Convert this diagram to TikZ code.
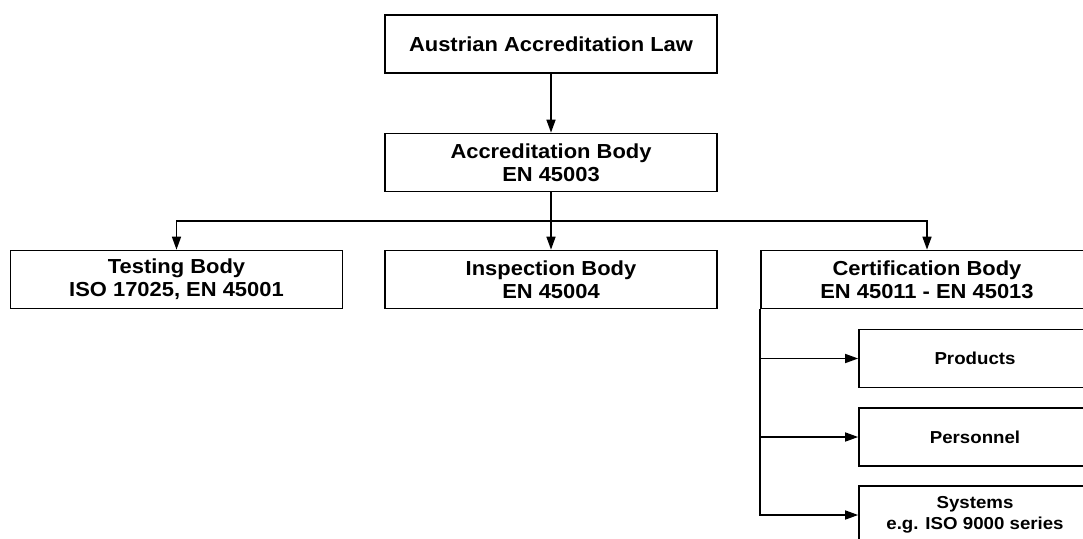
\documentclass[tikz,border=0pt]{standalone}
\usepackage{fontspec}
\setmainfont[FakeStretch=1.08]{Liberation Sans}
\usepackage{tikz}
\usetikzlibrary{positioning,arrows.meta}
\tikzstyle{body}      = [rectangle, draw=black, line width=1.7pt, minimum width=332pt, minimum height=58pt, align=center, font=\fontsize{20.3}{23}\selectfont\bfseries, inner sep=0pt]
\tikzstyle{scope}     = [rectangle, draw=black, line width=1.7pt, minimum width=232pt, minimum height=58pt, align=center, font=\fontsize{17.3}{21.5}\selectfont\bfseries, inner sep=0pt]
\tikzstyle{arrow}     = [line width=1.6pt,-{Triangle[length=13pt,width=9pt]}]

\begin{document}
\begin{tikzpicture}[x=1pt,y=-1pt]
		\useasboundingbox (0,0) rectangle (1083,538);
		\clip (0,0) rectangle (1083,538);

		\node[body] (law) at (551,44) {Austrian Accreditation Law};
		\node[body] (accr) at (551,162.5) {Accreditation Body\\EN 45003};

		\node[body] (test) at (176.5,279.5) {Testing Body\\ISO 17025, EN 45001};
		\node[body] (insp) at (551,279.5) {Inspection Body\\EN 45004};
		\node[body] (cert) at (927,279.5) {Certification Body\\EN 45011 - EN 45013};

		\node[scope] (prod) at (975,358.5) {Products};
		\node[scope] (pers) at (975,437) {Personnel};
		\node[scope] (sys) at (975,515) {Systems\\e.g. ISO 9000 series};

		\coordinate (split) at (551,221);

		\draw[arrow] (law) -- (accr);
		\draw[line width=1.6pt] (accr) -- (split);
		\draw[arrow] (split) -| (test.north);
		\draw[arrow] (split) -- (insp.north);
		\draw[arrow] (split) -| (cert.north);

		\draw[arrow] (cert.south west) |- (prod.west);
		\draw[arrow] (cert.south west) |- (pers.west);
		\draw[arrow] (cert.south west) |- (sys.west);
	\end{tikzpicture}
\end{document}
